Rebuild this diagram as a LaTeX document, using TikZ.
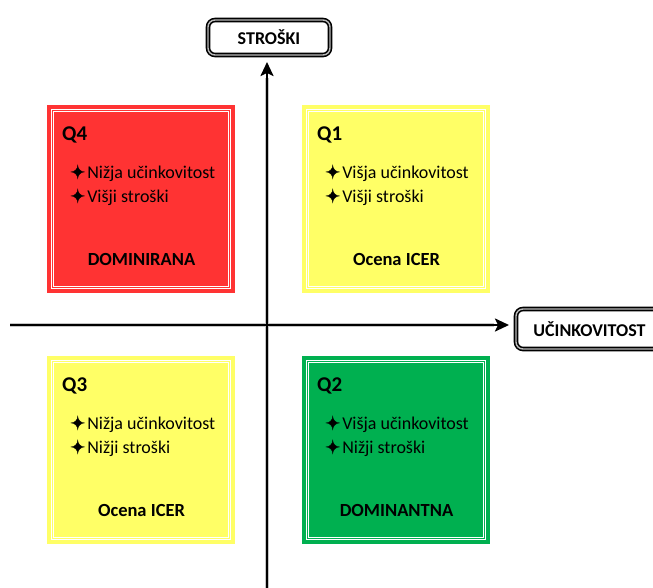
\documentclass[tikz,border=0pt]{standalone}
\usepackage{fontspec}
\setmainfont{Carlito}
\newfontfamily\symfont[FakeBold=1.5]{DejaVu Sans}
\usetikzlibrary{arrows.meta}
\definecolor{qred}{HTML}{FF3333}
\definecolor{qyellow}{HTML}{FFFF66}
\definecolor{qgreen}{HTML}{00B050}
\newcommand{\starmark}{{\symfont\fontsize{18}{20}\selectfont ✦}\hspace{2pt}}
\tikzset{
  quad/.style={fill=#1, draw=none},
  quadline/.style={draw=white, line width=1.2pt, double=#1, double distance=1.2pt},
  qlabel/.style={anchor=base west, inner sep=0pt, font=\fontsize{21}{24}\selectfont\bfseries},
  qitem/.style={anchor=base west, inner sep=0pt, font=\fontsize{18}{21}\selectfont},
  qname/.style={anchor=base, inner sep=0pt, font=\fontsize{18.5}{21}\selectfont\bfseries},
  axisbox/.style={draw=black, line width=1.6pt, double=gray!55, double distance=1.4pt,
    fill=white, rounded corners=7pt},
  axisname/.style={inner sep=0pt, font=\fontsize{18}{21}\selectfont\bfseries},
  axisline/.style={line width=2.4pt, -{Stealth[length=14pt,width=13pt,inset=3pt]}},
  axisshade/.style={line width=3.6pt, gray!45}
}
\begin{document}
\begin{tikzpicture}[x=1pt,y=-1pt]
\clip (0,0) rectangle (653,587);
\fill[white] (0,0) rectangle (653,587);

% quadrant panels: position, colour, texts
\foreach \bx/\by/\col/\q/\la/\lb/\nm in {
  47/105/qred/Q4/Nižja učinkovitost/Višji stroški/DOMINIRANA,
  302/105/qyellow/Q1/Višja učinkovitost/Višji stroški/Ocena ICER,
  47/356/qyellow/Q3/Nižja učinkovitost/Nižji stroški/Ocena ICER,
  302/356/qgreen/Q2/Višja učinkovitost/Nižji stroški/DOMINANTNA}{
  \fill[quad=\col] (\bx,\by) rectangle ++(188,188);
  \draw[quadline=\col] (\bx+5.5,\by+5.5) rectangle ++(177,177);
  \node[qlabel] (\q-lab) at (\bx+15,\by+35) {\q};
  \node[qitem] (\q-a) at (\bx+23,\by+73.5) {\starmark\la};
  \node[qitem] (\q-b) at (\bx+23,\by+97.5) {\starmark\lb};
  \node[qname] (\q-nm) at (\bx+94.5,\by+160) {\nm};
}

% axes
\coordinate (ybot) at (267,595);
\coordinate (ytop) at (267,62);
\coordinate (xleft) at (10,325);
\coordinate (xright) at (509,325);
\draw[axisshade] (267,595) -- (267,78);
\draw[axisshade] (10,325) -- (494,325);
\draw[axisline] (ybot) -- (ytop);
\draw[axisline] (xleft) -- (xright);

% axis titles
\draw[axisbox] (208,20) rectangle (330,55);
\node[axisname] (cost) at (269,37.5) {STROŠKI};
\draw[axisbox] (516,309) rectangle (680,349);
\node[axisname] (eff) at (589.5,329) {UČINKOVITOST};
\end{tikzpicture}
\end{document}
